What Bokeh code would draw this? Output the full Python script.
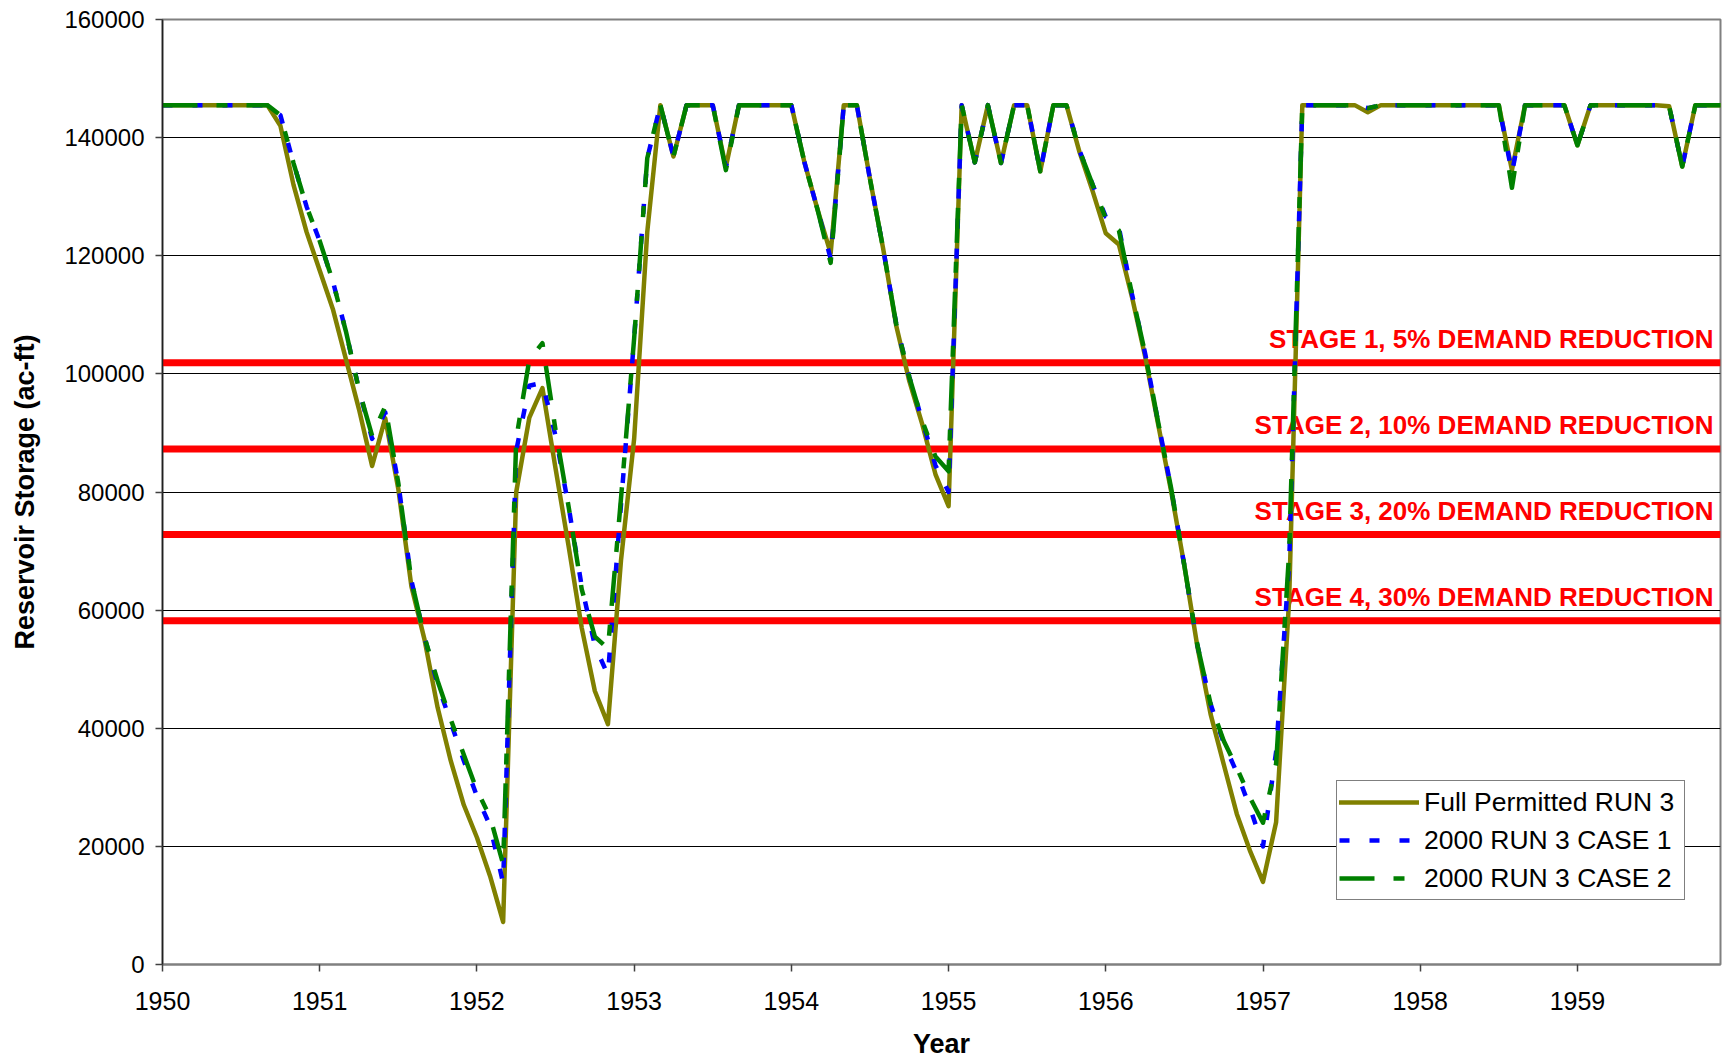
from bokeh.plotting import figure
from bokeh.models import Range1d, FixedTicker, Legend, LegendItem, BasicTickFormatter
from bokeh.core.properties import value
from bokeh.embed import file_html
from bokeh.resources import INLINE
import numpy as np

# ---------------- data (monthly, Jan 1950 .. Dec 1959) ----------------
start_year = 1950
n_months = 120

full_permitted_run3 = [
    145500, 145500, 145500, 145500, 145500, 145500, 145500, 145500, 145500, 142000, 132000, 124000,  # 1950
    117500, 111000, 102500, 94000, 84400, 92500, 80500, 64000, 55000, 43500, 34500, 27000,          # 1951
    21500, 15000, 7200, 80000, 92600, 97600, 84000, 70800, 57000, 46300, 40700, 68500,              # 1952
    89000, 124000, 145500, 136800, 145500, 145500, 145500, 135000, 145500, 145500, 145500, 145500,  # 1953
    145500, 135800, 127800, 120400, 145500, 145500, 133000, 121300, 108200, 98800, 91400, 83000,    # 1954
    77600, 145500, 135800, 145500, 135700, 145500, 145500, 134300, 145500, 145500, 137500, 130900,  # 1955
    123800, 121900, 113000, 103000, 91400, 80000, 67500, 53700, 42400, 33900, 25500, 19300,         # 1956
    14000, 24100, 62000, 145500, 145500, 145500, 145500, 145500, 144300, 145500, 145500, 145500,    # 1957
    145500, 145500, 145500, 145500, 145500, 145500, 145500, 134500, 145500, 145500, 145500, 145500, # 1958
    138700, 145500, 145500, 145500, 145500, 145500, 145500, 145300, 135100, 145500, 145500, 145500, # 1959
]

run3_case1_2000 = [
    145500, 145500, 145500, 145500, 145500, 145500, 145500, 145500, 145500, 143800, 135700, 128300,
    122500, 115700, 107200, 97300, 89000, 93500, 81500, 65000, 55400, 47500, 41000, 34500,
    28500, 23500, 13800, 87000, 98000, 98500, 89500, 77500, 64000, 54000, 49000, 78000,
    106000, 136500, 145500, 136800, 145500, 145500, 145500, 135000, 145500, 145500, 145500, 145500,
    145500, 135800, 127800, 119500, 145500, 145500, 133000, 121300, 108500, 99500, 92000, 84500,
    80000, 145500, 135800, 145500, 135700, 145500, 145500, 134300, 145500, 145500, 137800, 132000,
    126600, 124800, 113500, 103500, 91800, 80500, 67500, 54000, 44100, 37500, 32500, 26600,
    20000, 36000, 68000, 145500, 145500, 145500, 145500, 145500, 145000, 145500, 145500, 145500,
    145500, 145500, 145500, 145500, 145500, 145500, 145500, 134000, 145500, 145500, 145500, 145500,
    138700, 145500, 145500, 145500, 145500, 145500, 145500, 145300, 135100, 145500, 145500, 145500,
]

run3_case2_2000 = [
    145500, 145500, 145500, 145500, 145500, 145500, 145500, 145500, 145500, 143800, 135700, 128300,
    122500, 115700, 107200, 97300, 89500, 94500, 81500, 65000, 55400, 48000, 41500, 35500,
    29500, 25000, 17000, 89000, 102400, 105200, 90500, 77500, 63500, 55500, 53500, 79000,
    106000, 136500, 145500, 136800, 145500, 145500, 145500, 134500, 145500, 145500, 145500, 145500,
    145500, 135800, 127800, 118800, 145500, 145500, 133000, 121300, 108500, 99500, 92000, 86000,
    83500, 145500, 135800, 145500, 135700, 145500, 145500, 134300, 145500, 145500, 137800, 132000,
    126300, 124300, 113500, 103500, 91800, 80500, 67500, 54000, 44100, 37900, 33300, 28300,
    24000, 34000, 70000, 145500, 145500, 145500, 145500, 145500, 145000, 145500, 145500, 145500,
    145500, 145500, 145500, 145500, 145500, 145500, 145500, 131500, 145500, 145500, 145500, 145500,
    138700, 145500, 145500, 145500, 145500, 145500, 145500, 145300, 135100, 145500, 145500, 145500,
]

stage_levels = [101900, 87300, 72800, 58200]
stage_labels = [
    "STAGE 1, 5% DEMAND REDUCTION",
    "STAGE 2, 10% DEMAND REDUCTION",
    "STAGE 3, 20% DEMAND REDUCTION",
    "STAGE 4, 30% DEMAND REDUCTION",
]

series_names = ["Full Permitted RUN 3", "2000 RUN 3 CASE 1", "2000 RUN 3 CASE 2"]
year_ticks = [1950, 1951, 1952, 1953, 1954, 1955, 1956, 1957, 1958, 1959]
storage_ticks = [0, 20000, 40000, 60000, 80000, 100000, 120000, 140000, 160000]

# ---------------- figure ----------------
x_start, x_end = 1950.0, 1959.91
months = np.arange(n_months)
t = start_year + months / 12.0

FONT = "Liberation Sans"

p = figure(
    width=1733, height=1061,
    x_range=Range1d(x_start, x_end), y_range=Range1d(0, 160000),
    output_backend="svg", toolbar_location=None,
    min_border_left=162, min_border_right=13, min_border_top=19, min_border_bottom=97,
    background_fill_color="white", border_fill_color="white",
)
p.outline_line_color = "#808080"
p.outline_line_width = 2

# axes
p.xaxis.ticker = FixedTicker(ticks=year_ticks)
p.yaxis.ticker = FixedTicker(ticks=storage_ticks)
p.yaxis.formatter = BasicTickFormatter(use_scientific=False)
p.xaxis.formatter = BasicTickFormatter(use_scientific=False)
for ax in (p.xaxis[0], p.yaxis[0]):
    ax.major_tick_in = 0
    ax.major_tick_out = 7
    ax.minor_tick_line_color = None
    ax.major_tick_line_color = "#404040"
    ax.major_tick_line_width = 1.5
    ax.major_label_text_font = FONT
    ax.major_label_text_color = "black"
    ax.axis_label_text_font = FONT
    ax.axis_label_text_font_style = "bold"
    ax.axis_label_text_font_size = "27px"
    ax.axis_label_text_color = "black"

p.xaxis.axis_line_color = "#808080"
p.xaxis.axis_line_width = 2
p.yaxis.axis_line_color = "#202020"
p.yaxis.axis_line_width = 1.5
p.xaxis.major_label_text_font_size = "25px"
p.yaxis.major_label_text_font_size = "24px"
p.xaxis.major_label_standoff = 20
p.yaxis.major_label_standoff = 11
p.xaxis.axis_label = "Year"
p.yaxis.axis_label = "Reservoir Storage (ac-ft)"
p.xaxis.axis_label_standoff = 16
p.yaxis.axis_label_standoff = 21

# grid
p.xgrid.visible = False
p.ygrid.ticker = FixedTicker(ticks=storage_ticks)
p.ygrid.grid_line_color = "black"
p.ygrid.grid_line_width = 1

# stage lines + labels
for lvl in stage_levels:
    p.line(x=[x_start, x_end], y=[lvl, lvl], line_color="#FF0000", line_width=7)
p.text(
    x=[x_end] * len(stage_levels), y=stage_levels, text=stage_labels,
    text_align="right", text_baseline="alphabetic",
    x_offset=-7, y_offset=-24,
    text_font=value(FONT), text_font_style="bold", text_font_size="26px",
    text_color="#FF0000",
)

# series
r_full = p.line(t, full_permitted_run3, line_color="#808000", line_width=4.5,
                line_join="round", line_cap="round")
r_c1 = p.line(t, run3_case1_2000, line_color="#0000FF", line_width=4.5,
              line_dash="10 20", line_join="round")
r_c2 = p.line(t, run3_case2_2000, line_color="#008000", line_width=4.5,
              line_dash="35 19 11 19", line_join="round")

legend = Legend(
    items=[LegendItem(label=series_names[0], renderers=[r_full]),
           LegendItem(label=series_names[1], renderers=[r_c1]),
           LegendItem(label=series_names[2], renderers=[r_c2])],
    location=(1174, 64),
    glyph_width=80, glyph_height=38, label_height=38, label_width=258,
    label_standoff=5, padding=2, spacing=0, margin=0,
    label_text_font=FONT, label_text_font_size="26.5px", label_text_color="black",
    border_line_color="black", border_line_width=1.5,
    background_fill_color="white", background_fill_alpha=1.0,
)
p.add_layout(legend)

open("out.html", "w").write(file_html(p, INLINE))
